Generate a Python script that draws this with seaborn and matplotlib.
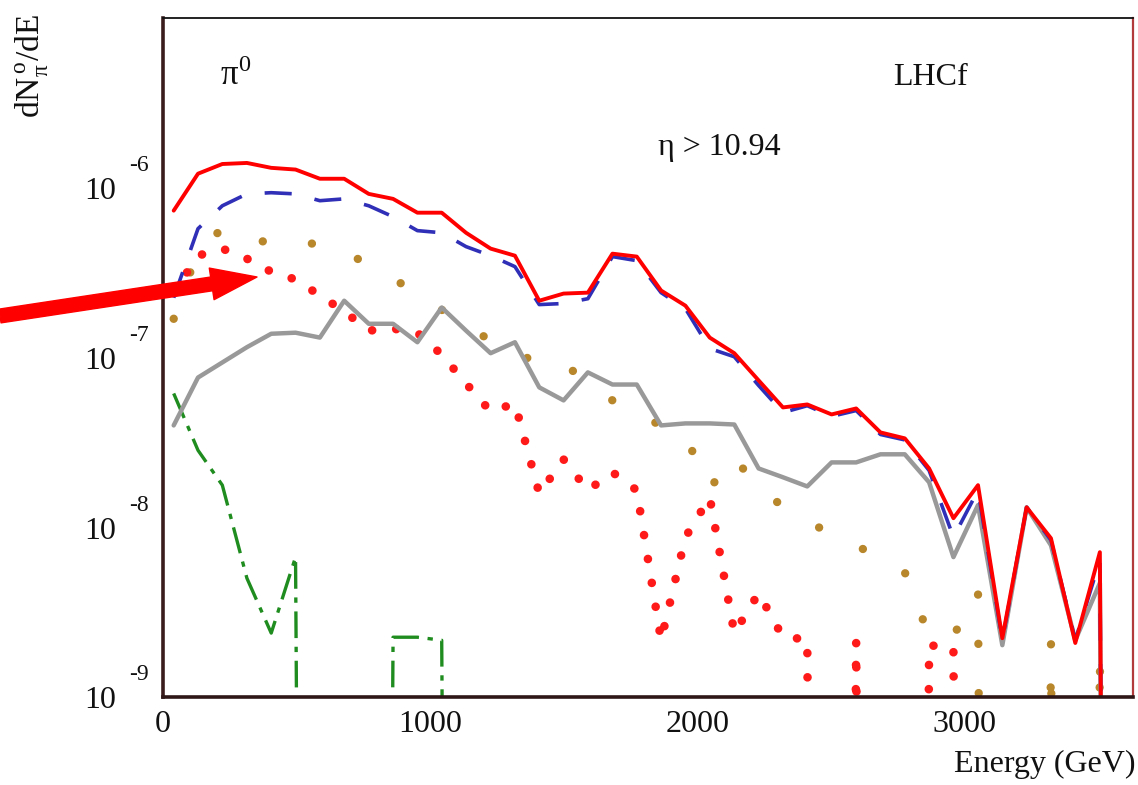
"""
pi0 energy spectrum (LHCf, eta > 10.94) - log-scale dN/dE per component
"""
import numpy as np
import matplotlib
matplotlib.use('Agg')
import matplotlib.pyplot as plt
from matplotlib.ticker import MultipleLocator, LogLocator, NullFormatter
import seaborn as sns

# bin centres (GeV)
energy = [40, 131, 222, 314, 405, 496, 587, 678, 770, 861,
          952, 1043, 1134, 1226, 1317, 1408, 1499, 1590, 1682, 1773,
          1864, 1955, 2046, 2138, 2229, 2320, 2411, 2502, 2594, 2685,
          2776, 2867, 2958, 3050, 3141, 3232, 3323, 3414, 3506, 3597]

# red solid - total
total = [7.33e-7, 1.21e-6, 1.38e-6, 1.40e-6, 1.31e-6, 1.28e-6, 1.13e-6, 1.13e-6, 9.2e-7, 8.6e-7,
         7.13e-7, 7.13e-7, 5.43e-7, 4.38e-7, 3.98e-7, 2.16e-7, 2.38e-7, 2.41e-7, 4.09e-7, 3.93e-7,
         2.48e-7, 2.02e-7, 1.31e-7, 1.06e-7, 7.33e-8, 5.08e-8, 5.29e-8, 4.62e-8, 5.01e-8, 3.62e-8,
         3.34e-8, 2.22e-8, 1.13e-8, 1.77e-8, 2.22e-9, 1.31e-8, 8.61e-9, 2.08e-9, 7.13e-9, 0]

# blue dashed
blue = [2.25e-7, 5.74e-7, 7.83e-7, 9.2e-7, 9.35e-7, 9.2e-7, 8.39e-7, 8.6e-7, 7.83e-7, 6.75e-7,
        5.59e-7, 5.43e-7, 4.5e-7, 3.98e-7, 3.43e-7, 2.05e-7, 2.08e-7, 2.22e-7, 3.93e-7, 3.72e-7,
        2.41e-7, 1.94e-7, 1.13e-7, 1.01e-7, 6.84e-8, 4.74e-8, 5.2e-8, 4.5e-8, 4.87e-8, 3.52e-8,
        3.27e-8, 2.16e-8, 8.73e-9, 1.65e-8, 2.16e-9, 1.31e-8, 8.39e-9, 2.16e-9, 6.4e-9, 0]

# grey solid
grey = [3.98e-8, 7.62e-8, 9.35e-8, 1.15e-7, 1.38e-7, 1.40e-7, 1.31e-7, 2.16e-7, 1.58e-7, 1.58e-7,
        1.23e-7, 1.97e-7, 1.44e-7, 1.06e-7, 1.23e-7, 6.67e-8, 5.59e-8, 8.17e-8, 6.93e-8, 6.93e-8,
        3.98e-8, 4.09e-8, 4.09e-8, 4.03e-8, 2.22e-8, 1.97e-8, 1.74e-8, 2.41e-8, 2.41e-8, 2.69e-8,
        2.69e-8, 1.84e-8, 6.67e-9, 1.35e-8, 2.02e-9, 1.31e-8, 7.83e-9, 2.16e-9, 4.69e-9, 0]

# red dotted
red_dot = [2.41e-7, 3.98e-7, 4.38e-7, 3.82e-7, 3.2e-7, 2.88e-7, 2.32e-7, 1.87e-7, 1.44e-7, 1.48e-7,
           1.40e-7, 1.04e-7, 7.03e-8, 4.81e-8, 5.36e-8, 1.58e-8, 2.51e-8, 1.65e-8, 2.11e-8, 1.65e-8,
           2.16e-9, 8.73e-9, 1.5e-8, 2.38e-9, 4.09e-9, 2.25e-9, 2.19e-9, 0, 2.11e-9, 0,
           0, 2.02e-9, 1.94e-9, 0, 0, 0, 0, 0, 0, 0]

# gold dotted
gold = [1.69e-7, 4.26e-7, 5.74e-7, 5.01e-7, 4.74e-7, 4.69e-7, 4.69e-7, 4.26e-7, 3.48e-7, 2.92e-7,
        2.38e-7, 1.91e-7, 1.54e-7, 1.26e-7, 1.03e-7, 9.6e-8, 9.35e-8, 6.93e-8, 5.59e-8, 4.44e-8,
        4.04e-8, 3.43e-8, 1.69e-8, 2.65e-8, 1.61e-8, 1.35e-8, 1.13e-8, 8.73e-9, 7.73e-9, 6.75e-9,
        5.43e-9, 2.29e-9, 2.29e-9, 4.26e-9, 0, 0, 2.13e-9, 0, 1.77e-9, 0]

# green dash-dot
green = [6.14e-8, 2.84e-8, 1.77e-8, 5.01e-9, 2.38e-9, 6.67e-9, 0, 0, 0, 2.25e-9,
         2.25e-9, 2.16e-9, 0, 0, 0, 0, 0, 0, 0, 0,
         0, 0, 0, 0, 0, 0, 0, 0, 0, 0,
         0, 0, 0, 0, 0, 0, 0, 0, 0, 0]


def on_log(v):
    # empty bins: like ROOT, push them far below the frame so the line drops vertically
    v = np.asarray(v, dtype=float)
    return np.where(v > 0, v, 1e-30)


sns.set_theme(style='white')
plt.rcParams['font.family'] = ['Liberation Serif', 'DejaVu Serif']
plt.rcParams['mathtext.fontset'] = 'stix'

W, H = 1138, 785
fig = plt.figure(figsize=(W / 100, H / 100), dpi=100)
ax = fig.add_axes([163 / W, 88 / H, 970 / W, 679 / H])

common = dict(x=energy, ax=ax, estimator=None, errorbar=None, legend=False)
sns.lineplot(y=on_log(gold), color='#b8862b', linewidth=6.0,
             linestyle=(0, (0.01, 5.9)), dash_capstyle='round', **common)
sns.lineplot(y=on_log(red_dot), color='#ff1a1a', linewidth=6.2,
             linestyle=(0, (0.01, 2.8)), dash_capstyle='round', **common)
sns.lineplot(y=on_log(green), color='#1e8c1e', linewidth=2.4,
             linestyle=(0, (8.0, 2.6, 1.6, 2.6)), **common)
sns.lineplot(y=on_log(grey), color='#999999', linewidth=3.2, **common)
sns.lineplot(y=on_log(blue), color='#2f2fb8', linewidth=2.6,
             linestyle=(0, (7.5, 6.5)), **common)
sns.lineplot(y=on_log(total), color='#ff0000', linewidth=2.8, **common)

ax.set_yscale('log')
ax.set_xlim(0, 3630)
ax.set_ylim(1e-9, 1e-5)

ax.xaxis.set_major_locator(MultipleLocator(1000))
ax.xaxis.set_minor_locator(MultipleLocator(200))
ax.yaxis.set_major_locator(LogLocator(base=10, numticks=10))
ax.yaxis.set_minor_locator(LogLocator(base=10, subs=np.arange(2, 10), numticks=20))
ax.yaxis.set_major_formatter(NullFormatter())
ax.yaxis.set_minor_formatter(NullFormatter())
ax.set_xticks([0, 1000, 2000, 3000])
ax.set_xticklabels(['0', '1000', '2000', '3000'])

ax.tick_params(axis='both', which='both', direction='in', top=False, right=False,
               color='#222222', width=1.1)
ax.tick_params(axis='both', which='major', length=16.5)
ax.tick_params(axis='both', which='minor', length=8.6)
ax.tick_params(axis='x', which='major', labelsize=23, pad=9, labelcolor='#111111')

for side, col, lw in [('left', '#3a1c1c', 2.6), ('bottom', '#2e1616', 2.6),
                      ('top', '#111111', 1.3), ('right', '#b23a3a', 1.6)]:
    ax.spines[side].set_color(col)
    ax.spines[side].set_linewidth(lw)

ax.set_xlabel('')
ax.set_ylabel('')

# ROOT-style "10" with detached exponent
for dec in [-9, -8, -7, -6]:
    ax.annotate('10', xy=(0, 10.0 ** dec), xycoords=('axes fraction', 'data'),
                xytext=(-47, -4), textcoords='offset pixels',
                ha='right', va='center', fontsize=23, color='#111111')
    ax.annotate(str(dec), xy=(0, 10.0 ** dec), xycoords=('axes fraction', 'data'),
                xytext=(-34, 22), textcoords='offset pixels',
                ha='left', va='center', fontsize=17, color='#111111')

ax.text(0.0588, 0.901, r'π$^{\mathregular{0}}$', transform=ax.transAxes, fontsize=25,
        va='baseline', color='#111111')
ax.text(0.7526, 0.901, 'LHCf', transform=ax.transAxes, fontsize=23,
        va='baseline', color='#111111')
ax.text(0.510, 0.798, 'η > 10.94', transform=ax.transAxes, fontsize=23,
        va='baseline', color='#111111')

fig.text(31 / W, 1 - 66 / H, r'dN$_{\mathregular{π}}^{\mathregular{\,o}}$/dE', rotation=90,
         ha='center', va='center', fontsize=24, color='#111111')
fig.text(1135 / W, 1 - 764 / H, 'Energy (GeV)', ha='right', va='center',
         fontsize=23, color='#111111')

# big red arrow pointing at the dotted curve
ax.annotate('', xy=(257, H - 277), xytext=(0, H - 316),
            xycoords='figure pixels', textcoords='figure pixels',
            arrowprops=dict(facecolor='#ff0000', edgecolor='#ff0000',
                            width=10, headwidth=23, headlength=33, shrink=0),
            annotation_clip=False, zorder=10)

fig.savefig('out.png', dpi=100)
plt.close(fig)
